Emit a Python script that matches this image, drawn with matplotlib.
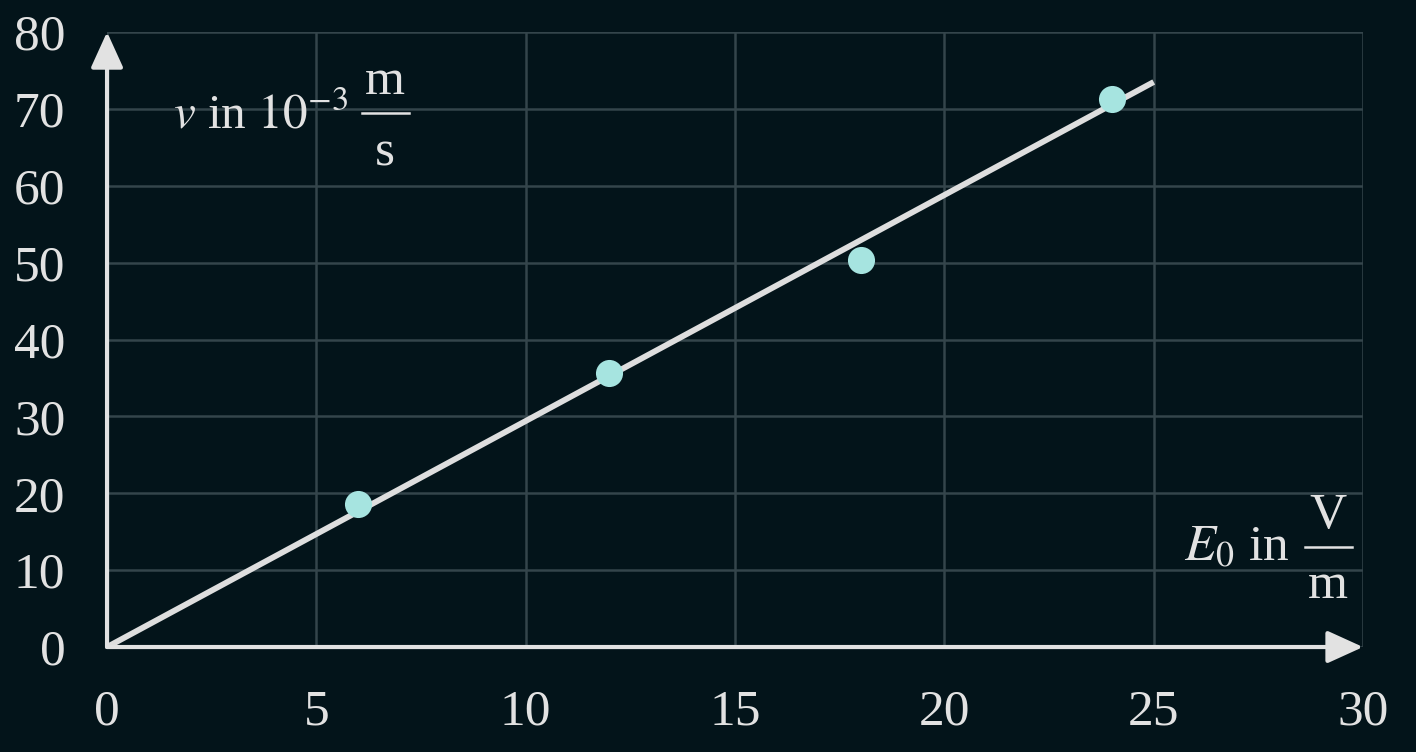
import matplotlib.pyplot as plt
from matplotlib.patches import Rectangle

# measured values
E0 = [6, 12, 18, 24]
v = [18.6, 35.7, 50.3, 71.3]
fit_E = [0, 25]
fit_v = [0, 73.5]
xticks = [0, 5, 10, 15, 20, 25, 30]
yticks = [0, 10, 20, 30, 40, 50, 60, 70, 80]

bg = "#03141a"
grid_col = "#34454b"
fg = "#e2e2e2"

plt.rcParams["font.family"] = ["Liberation Serif", "DejaVu Serif"]
plt.rcParams["mathtext.fontset"] = "stix"

fig = plt.figure(figsize=(14.16, 7.52), dpi=100, facecolor=bg)
ax = fig.add_axes([0.0756, 0.1396, 0.8870, 0.8178])
ax.set_facecolor(bg)
ax.set_xlim(0, 30)
ax.set_ylim(0, 80)
for s in ax.spines.values():
    s.set_visible(False)

ax.set_xticks(xticks)
ax.set_yticks(yticks)
ax.tick_params(length=0, labelsize=37, labelcolor=fg, pad=30)
ax.grid(True, color=grid_col, lw=1.8, zorder=0)

# axis arrows
arrow = dict(arrowstyle="-|>,head_length=1.1,head_width=0.5", color=fg, lw=3,
             shrinkA=0, shrinkB=0, mutation_scale=20)
ax.annotate("", xy=(30, 0), xytext=(0, 0), arrowprops=arrow, annotation_clip=False, zorder=5)
ax.annotate("", xy=(0, 80), xytext=(0, 0), arrowprops=arrow, annotation_clip=False, zorder=5)

ax.plot(fit_E, fit_v, color="#dedede", lw=4.2, solid_capstyle="butt", zorder=3)
ax.plot(E0, v, "o", color="#a6e4e0", ms=19.5, mec="none", zorder=4)

# label boxes hiding the grid
ax.add_patch(Rectangle((1.27, 60.3), 6.37, 18.8, fc=bg, ec="none", zorder=1))
ax.add_patch(Rectangle((25.39, 3.8), 4.8, 18.5, fc=bg, ec="none", zorder=1, clip_on=False))

fs = 37
# y label: v in 10^-3 m/s
ax.text(5.76, 67.5, r"$v$ in $10^{-3}$", fontsize=35.5, color=fg, ha="right", va="baseline", zorder=2)
ax.text(6.64, 71.9, "m", fontsize=fs, color=fg, ha="center", va="baseline", zorder=2)
ax.text(6.64, 62.6, "s", fontsize=fs, color=fg, ha="center", va="baseline", zorder=2)
ax.plot([6.09, 7.21], [69.5, 69.5], color=fg, lw=1.8, zorder=2)

# x label: E0 in V/m
ax.text(28.25, 11.3, r"$E_0$ in", fontsize=fs, color=fg, ha="right", va="baseline", zorder=2)
ax.text(29.16, 15.45, "V", fontsize=fs, color=fg, ha="center", va="baseline", zorder=2)
ax.text(29.16, 6.36, "m", fontsize=fs, color=fg, ha="center", va="baseline", zorder=2)
ax.plot([28.61, 29.74], [13.0, 13.0], color=fg, lw=1.8, zorder=2, clip_on=False)

fig.savefig("out.png", dpi=100, facecolor=bg)
